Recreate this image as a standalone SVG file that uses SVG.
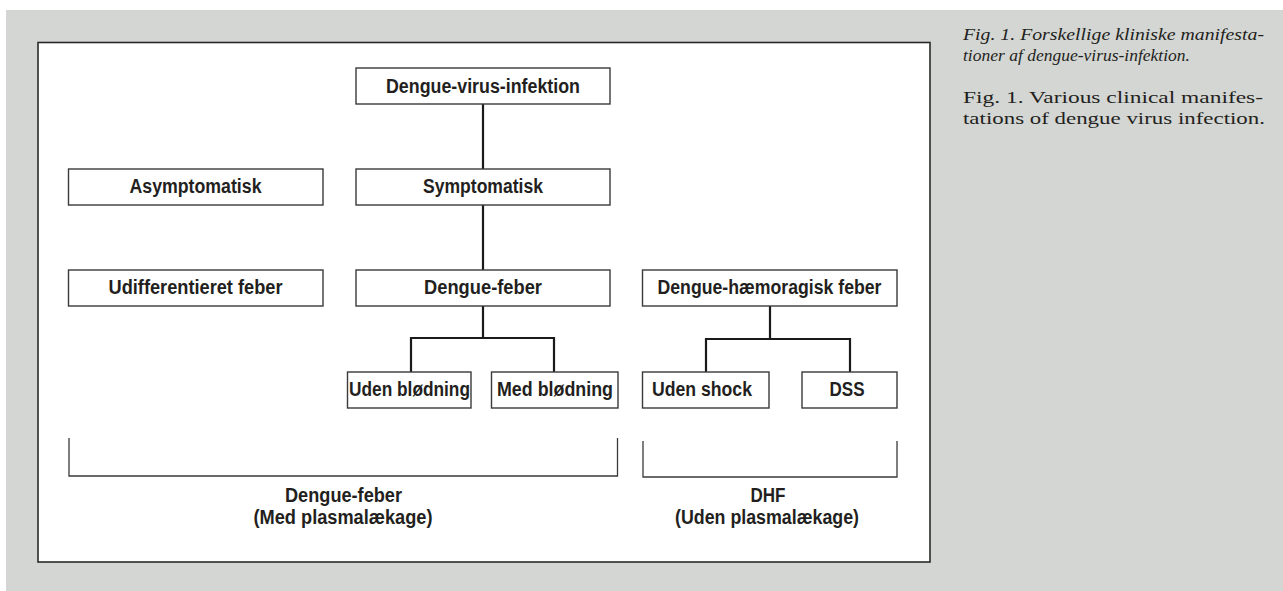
<svg xmlns="http://www.w3.org/2000/svg" width="1283" height="591" viewBox="0 0 1283 591">
  <style>
    .box { fill: #ffffff; stroke: #3a3a3a; stroke-width: 1.4; }
    .lbl { font-family: "Liberation Sans Narrow", "Liberation Sans", Arial, sans-serif; font-weight: bold; font-size: 19.5px; fill: #231f20; text-anchor: middle; }
    .conn { fill: none; stroke: #1a1a1a; stroke-width: 2.2; }
    .brk { fill: none; stroke: #3a3a3a; stroke-width: 1.3; }
    .cap { font-family: "Liberation Serif", "Times New Roman", serif; font-size: 17.5px; fill: #231f20; }
  </style>
  <rect x="6" y="10" width="1277" height="581" fill="#d4d6d3"/>
  <rect x="38" y="42.5" width="892" height="519.5" fill="#ffffff" stroke="#2a2a2a" stroke-width="1.6"/>

  <g id="connectors">
    <line class="conn" x1="483" y1="104" x2="483" y2="169"/>
    <line class="conn" x1="483" y1="205" x2="483" y2="270"/>
    <polyline class="conn" points="411,372 411,338 554,338 554,372"/>
    <line class="conn" x1="483" y1="306" x2="483" y2="338"/>
    <polyline class="conn" points="706,372 706,339 850,339 850,372"/>
    <line class="conn" x1="770" y1="306" x2="770" y2="339"/>
    <polyline class="brk" points="69,438 69,476 617.5,476 617.5,438"/>
    <polyline class="brk" points="643,441 643,477 897,477 897,441"/>
  </g>

  <g id="n-infektion">
    <rect class="box" x="356" y="68" width="254" height="36"/>
    <text class="lbl" x="483" y="92.5" textLength="194" lengthAdjust="spacingAndGlyphs">Dengue-virus-infektion</text>
  </g>
  <g id="n-asymptomatisk">
    <rect class="box" x="68.5" y="169" width="254.5" height="36"/>
    <text class="lbl" x="195.5" y="193" textLength="132" lengthAdjust="spacingAndGlyphs">Asymptomatisk</text>
  </g>
  <g id="n-symptomatisk">
    <rect class="box" x="356" y="169" width="254" height="36"/>
    <text class="lbl" x="483" y="193" textLength="120" lengthAdjust="spacingAndGlyphs">Symptomatisk</text>
  </g>
  <g id="n-udiff">
    <rect class="box" x="68.5" y="270" width="254.5" height="36"/>
    <text class="lbl" x="195.5" y="294" textLength="174" lengthAdjust="spacingAndGlyphs">Udifferentieret feber</text>
  </g>
  <g id="n-denguefeber">
    <rect class="box" x="356" y="270" width="254" height="36"/>
    <text class="lbl" x="483" y="294" textLength="118" lengthAdjust="spacingAndGlyphs">Dengue-feber</text>
  </g>
  <g id="n-dhf">
    <rect class="box" x="642.5" y="270" width="254.5" height="36"/>
    <text class="lbl" x="769.5" y="294" textLength="224" lengthAdjust="spacingAndGlyphs">Dengue-hæmoragisk feber</text>
  </g>
  <g id="n-udenblod">
    <rect class="box" x="347.5" y="372" width="123.5" height="36"/>
    <text class="lbl" x="409.5" y="396" textLength="121" lengthAdjust="spacingAndGlyphs">Uden blødning</text>
  </g>
  <g id="n-medblod">
    <rect class="box" x="491.5" y="372" width="126.5" height="36"/>
    <text class="lbl" x="555" y="396" textLength="116" lengthAdjust="spacingAndGlyphs">Med blødning</text>
  </g>
  <g id="n-udenshock">
    <rect class="box" x="642.5" y="372" width="126.5" height="36"/>
    <text class="lbl" x="702" y="396" textLength="100" lengthAdjust="spacingAndGlyphs">Uden shock</text>
  </g>
  <g id="n-dss">
    <rect class="box" x="802" y="372" width="95" height="36"/>
    <text class="lbl" x="847" y="396" textLength="35" lengthAdjust="spacingAndGlyphs">DSS</text>
  </g>

  <g id="label-df">
    <text class="lbl" x="343.5" y="502" textLength="117" lengthAdjust="spacingAndGlyphs">Dengue-feber</text>
    <text class="lbl" x="343" y="524" textLength="179" lengthAdjust="spacingAndGlyphs">(Med plasmalækage)</text>
  </g>
  <g id="label-dhf">
    <text class="lbl" x="768" y="502" textLength="35" lengthAdjust="spacingAndGlyphs">DHF</text>
    <text class="lbl" x="767" y="524" textLength="184" lengthAdjust="spacingAndGlyphs">(Uden plasmalækage)</text>
  </g>

  <g id="caption">
    <text class="cap" x="963" y="40" font-style="italic" textLength="301" lengthAdjust="spacingAndGlyphs">Fig. 1. Forskellige kliniske manifesta-</text>
    <text class="cap" x="963" y="61" font-style="italic">tioner af dengue-virus-infektion.</text>
    <text class="cap" x="963" y="103" textLength="300" lengthAdjust="spacingAndGlyphs">Fig. 1. Various clinical manifes-</text>
    <text class="cap" x="963" y="124" textLength="302" lengthAdjust="spacingAndGlyphs">tations of dengue virus infection.</text>
  </g>
</svg>
